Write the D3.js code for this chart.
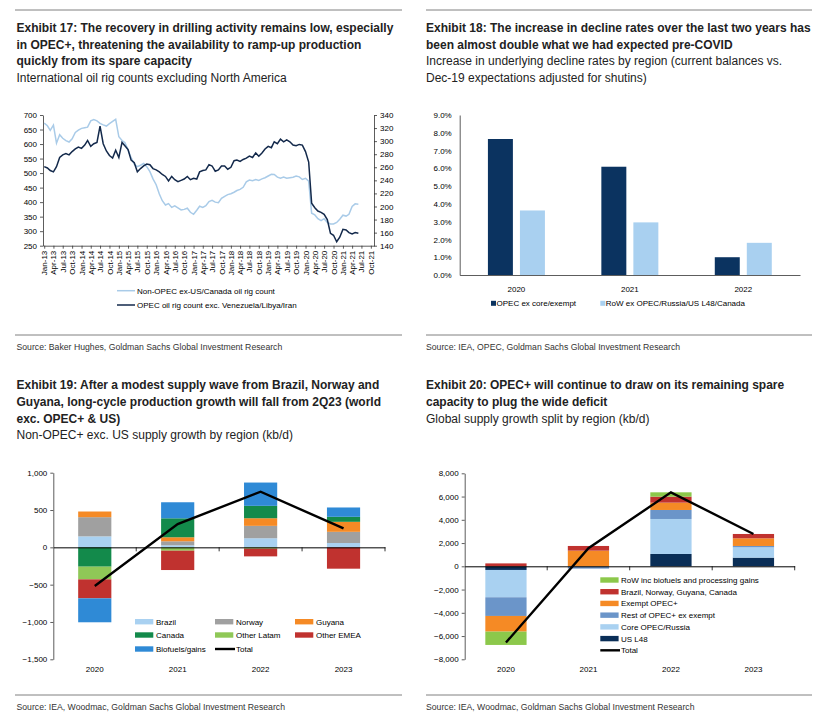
<!DOCTYPE html>
<html><head><meta charset="utf-8">
<script src="https://cdn.jsdelivr.net/npm/d3@7"></script>
<style>
body{margin:0;background:#fff}
svg{display:block}
.nar{font-family:"Liberation Sans Narrow","Arial Narrow","Liberation Sans",sans-serif}
.t8{font-family:"Liberation Sans",Arial,sans-serif;font-size:8px;fill:#000}
</style></head><body>
<svg id="c" width="824" height="720"></svg>
<script>
// ---------- DATA ----------
// Exhibit 17: monthly rig counts starting Jan-13
const ex17Start = "2013-01";
const nonOpecRigs = [672,663,647,665,603,632,620,612,607,618,640,648,654,656,658,680,684,680,671,666,662,670,678,685,625,612,605,580,553,530,522,527,533,522,505,480,460,428,405,390,395,382,387,380,373,375,379,365,358,372,386,382,388,402,406,400,398,413,420,426,429,434,440,444,451,470,476,474,478,475,480,484,490,496,495,486,482,486,482,484,486,490,487,478,482,472,362,356,343,336,343,330,325,325,330,341,355,352,358,385,394,393];
const opecRigs = [261,259,255,253,261,275,279,281,279,284,288,291,289,294,301,292,296,298,323,296,285,278,274,286,275,298,293,287,271,267,253,258,262,265,264,258,256,253,249,246,239,246,241,238,240,242,246,241,243,242,253,255,256,264,262,254,256,262,262,257,260,270,271,269,272,274,277,275,282,277,282,288,292,290,299,296,303,299,302,299,294,293,295,294,284,268,205,198,193,191,188,180,159,156,146,153,165,164,160,158,160,159];
const leftTicks17 = [250,300,350,400,450,500,550,600,650,700];
const rightTicks17 = [140,160,180,200,220,240,260,280,300,320,340];
const legend17 = ["Non-OPEC ex-US/Canada oil rig count","OPEC oil rig count exc. Venezuela/Libya/Iran"];

// Exhibit 18: increase in decline rates (%)
const years18 = ["2020","2021","2022"];
const opecExCore18 = [7.65,6.09,1.0];
const rowExOpec18 = [3.63,2.96,1.81];
const ticks18 = [0,1,2,3,4,5,6,7,8,9];
const legend18 = ["OPEC ex core/exempt","RoW ex OPEC/Russia/US L48/Canada"];

// Exhibit 19: Non-OPEC+ exc. US supply growth (kb/d)
const years19 = ["2020","2021","2022","2023"];
const brazil19 = [147,27,122,58];
const norway19 = [257,54,166,150];
const guyana19 = [76,54,102,134];
const canada19 = [-259,254,166,67];
const otherLatam19 = [-170,-45,-18,0];
const otherEMEA19 = [-254,-259,-103,-286];
const biofuels19 = [-321,215,312,125];
const total19 = [-518,312,745,254];
const ticks19 = [-1500,-1000,-500,0,500,1000];
const names19 = ["Brazil","Norway","Guyana","Canada","Other Latam","Other EMEA","Biofuels/gains"];

// Exhibit 20: Global supply growth (kb/d)
const years20 = ["2020","2021","2022","2023"];
const usL48_20 = [-315,0,1061,745];
const coreOpec20 = [-2350,0,3010,889];
const restOpec20 = [-1606,-200,774,115];
const exemptOpec20 = [-1347,1347,631,659];
const bngc20 = [250,402,516,373];
const row20 = [-1147,0,373,0];
const total20 = [-6560,1550,6365,2780];
const ticks20 = [-8000,-6000,-4000,-2000,0,2000,4000,6000,8000];
const names20 = ["US L48","Core OPEC/Russia","Rest of OPEC+ ex exempt","Exempt OPEC+","Brazil, Norway, Guyana, Canada","RoW inc biofuels and processing gains"];

// ---------- DRAW ----------
const svg = d3.select("#c");
const fmtK = d3.format(",");

function rule(x1,x2,y){svg.append("line").attr("x1",x1).attr("x2",x2).attr("y1",y).attr("y2",y).attr("stroke","#808080").attr("stroke-width",1);}
function texts(cls,x,ys,lines,size,weight,color){
  lines.forEach((t,i)=>svg.append("text").attr("class","nar "+cls).attr("data-x",x).attr("data-y",ys[i])
    .attr("x",0).attr("y",0).attr("transform",`translate(${x},${ys[i]})`)
    .attr("font-size",size).attr("font-weight",weight).attr("fill",color||"#222").text(t));
}
// condense a group of texts horizontally so that the first (reference) line gets the target width
function condense(cls,target){
  const nodes = svg.selectAll("text."+cls).nodes();
  const f = Math.min(1, target / nodes[0].getComputedTextLength());
  nodes.forEach(n=>{
    n.setAttribute("transform",`translate(${n.getAttribute("data-x")},${n.getAttribute("data-y")}) scale(${f.toFixed(4)},1)`);
  });
}
function styleAxis(g){
  g.selectAll("path,line").attr("stroke","#333").attr("stroke-width",0.8);
  g.selectAll("text").attr("class","t8").attr("font-size",null).attr("font-family",null);
}

// Headers
rule(15,402,10); rule(426,812,10);
texts("ttl",16.5,[32,48.7,65.3],["Exhibit 17: The recovery in drilling activity remains low, especially","in OPEC+, threatening the availability to ramp-up production","quickly from its spare capacity"],13.5,"bold");
texts("sub",16.5,[81.7],["International oil rig counts excluding North America"],12,"normal");
texts("ttl",426,[32,48.7],["Exhibit 18: The increase in decline rates over the last two years has","been almost double what we had expected pre-COVID"],13.5,"bold");
texts("sub",426,[65.3,81.7],["Increase in underlying decline rates by region (current balances vs.","Dec-19 expectations adjusted for shutins)"],12,"normal");
texts("ttl",16.5,[389.3,406,422.7],["Exhibit 19: After a modest supply wave from Brazil, Norway and","Guyana, long-cycle production growth will fall from 2Q23 (world","exc. OPEC+ & US)"],13.5,"bold");
texts("sub",16.5,[439.3],["Non-OPEC+ exc. US supply growth by region (kb/d)"],12,"normal");
texts("ttl",426,[389.3,406],["Exhibit 20: OPEC+ will continue to draw on its remaining spare","capacity to plug the wide deficit"],13.5,"bold");
texts("sub",426,[422.7],["Global supply growth split by region (kb/d)"],12,"normal");

rule(15,402,335); rule(426,812,335); rule(15,402,695); rule(426,812,695);
texts("src",16.5,[349.5],["Source: Baker Hughes, Goldman Sachs Global Investment Research"],9.5,"normal","#333");
texts("src",426,[349.5],["Source: IEA, OPEC, Goldman Sachs Global Investment Research"],9.5,"normal","#333");
texts("src",16.5,[709.5],["Source: IEA, Woodmac, Goldman Sachs Global Investment Research"],9.5,"normal","#333");
texts("src",426,[709.5],["Source: IEA, Woodmac, Goldman Sachs Global Investment Research"],9.5,"normal","#333");
condense("ttl",377);
condense("sub",272.5);
condense("src",266);

// ----- Exhibit 17 -----
(function(){
  const start = d3.timeParse("%Y-%m")(ex17Start);
  const dates = nonOpecRigs.map((_,i)=>d3.timeMonth.offset(start,i));
  const x = d3.scaleTime().domain([d3.timeDay.offset(start,-12), d3.timeMonth.offset(start,106)]).range([43,374]);
  const yL = d3.scaleLinear().domain([250,700]).range([245.7,115]);
  const yR = d3.scaleLinear().domain([140,340]).range([245.7,115]);
  const gL = svg.append("g").attr("transform","translate(43,0)").call(d3.axisLeft(yL).tickValues(leftTicks17).tickSize(3).tickSizeOuter(0).tickPadding(3));
  styleAxis(gL);
  const gR = svg.append("g").attr("transform","translate(374,0)").call(d3.axisRight(yR).tickValues(rightTicks17).tickSize(3).tickSizeOuter(0).tickPadding(3));
  styleAxis(gR);
  const ticks = d3.timeMonth.range(start, d3.timeMonth.offset(start,106), 3);
  const gB = svg.append("g").attr("transform","translate(0,245.7)").call(d3.axisBottom(x).tickValues(ticks).tickFormat(d3.timeFormat("%b-%y")).tickSize(3).tickSizeOuter(0));
  styleAxis(gB);
  gB.selectAll("text").attr("transform","rotate(-90)").attr("x",-5).attr("y",0).attr("dy","0.32em").style("text-anchor","end");
  const lineL = d3.line().x((d,i)=>x(dates[i])).y(d=>yL(d));
  const lineR = d3.line().x((d,i)=>x(dates[i])).y(d=>yR(d));
  svg.append("path").datum(nonOpecRigs).attr("d",lineL).attr("fill","none").attr("stroke","#a9cbe8").attr("stroke-width",1.5);
  svg.append("path").datum(opecRigs).attr("d",lineR).attr("fill","none").attr("stroke","#13294b").attr("stroke-width",1.5);
  const cols=["#a9cbe8","#13294b"];
  legend17.forEach((t,i)=>{
    const yy = 290.7 + i*14.3;
    svg.append("line").attr("x1",117).attr("x2",135).attr("y1",yy).attr("y2",yy).attr("stroke",cols[i]).attr("stroke-width",1.5);
    svg.append("text").attr("class","t8").attr("x",137).attr("y",yy+3).text(t);
  });
})();

// ----- Exhibit 18 -----
(function(){
  const x = d3.scaleBand().domain(years18).range([459.7,800]);
  const groupW = 57;
  const x1 = d3.scaleBand().domain([0,1]).range([0,groupW]).paddingInner(0.22);
  const y = d3.scaleLinear().domain([0,9]).range([275,115]);
  const cols = ["#0b3360","#a9d0f0"];
  const series = [opecExCore18,rowExOpec18];
  series.forEach((s,k)=>{
    svg.append("g").selectAll("rect").data(s).join("rect")
      .attr("x",(d,i)=>x(years18[i])+(x.bandwidth()-groupW)/2+x1(k))
      .attr("width",x1.bandwidth())
      .attr("y",d=>y(d)).attr("height",d=>y(0)-y(d)).attr("fill",cols[k]);
  });
  const gL = svg.append("g").attr("transform","translate(459.7,0)").call(d3.axisLeft(y).tickValues(ticks18).tickFormat(d=>d.toFixed(1)+"%").tickSize(0).tickPadding(8));
  styleAxis(gL);
  const gB = svg.append("g").attr("transform","translate(0,275)").call(d3.axisBottom(x).tickSize(0).tickPadding(11));
  styleAxis(gB);
  const lx=[491,600.3];
  legend18.forEach((t,i)=>{
    svg.append("rect").attr("x",lx[i]).attr("y",300.8).attr("width",5).attr("height",5).attr("fill",cols[i]);
    svg.append("text").attr("class","t8").attr("x",lx[i]+5.5).attr("y",306.2).text(t);
  });
})();

// ----- stacked chart helper -----
function stacked(cfg){
  const x = d3.scaleBand().domain(cfg.years).range(cfg.xr);
  const y = d3.scaleLinear().domain(cfg.yd).range(cfg.yr);
  const rows = cfg.years.map((yr,i)=>{const o={year:yr}; cfg.keys.forEach((k,j)=>o[k]=cfg.vals[j][i]); return o;});
  const st = d3.stack().keys(cfg.keys).offset(d3.stackOffsetDiverging)(rows);
  const bw = x.bandwidth()*cfg.barFrac;
  st.forEach((layer,j)=>{
    svg.append("g").selectAll("rect").data(layer).join("rect")
      .attr("x",d=>x(d.data.year)+(x.bandwidth()-bw)/2).attr("width",bw)
      .attr("y",d=>y(d[1])).attr("height",d=>Math.max(0,y(d[0])-y(d[1]))).attr("fill",cfg.colors[j]);
  });
  const gL = svg.append("g").attr("transform",`translate(${cfg.xr[0]},0)`).call(d3.axisLeft(y).tickValues(cfg.ticks).tickFormat(fmtK).tickSize(3).tickSizeOuter(0).tickPadding(3));
  styleAxis(gL);
  const g0 = svg.append("g").attr("transform",`translate(0,${y(0)})`)
    .call(d3.axisBottom(x).tickSize(0).tickFormat(""));
  g0.selectAll("path").attr("stroke","#000").attr("stroke-width",1);
  g0.selectAll(".tick").remove();
  cfg.years.forEach(yr=>{
    svg.append("line").attr("x1",x(yr)+x.bandwidth()).attr("x2",x(yr)+x.bandwidth()).attr("y1",y(0)).attr("y2",y(0)+4).attr("stroke","#000").attr("stroke-width",0.8);
  });
  svg.append("g").selectAll("text").data(cfg.years).join("text").attr("class","t8")
    .attr("x",d=>x(d)+x.bandwidth()/2).attr("y",cfg.yr[0]+12.5).attr("text-anchor","middle").text(d=>d);
  const ln = d3.line().x((d,i)=>x(cfg.years[i])+x.bandwidth()/2).y(d=>y(d));
  svg.append("path").datum(cfg.total).attr("d",ln).attr("fill","none").attr("stroke","#000").attr("stroke-width",2.4);
}

// ----- Exhibit 19 -----
const colors19 = ["#a9d1f1","#a0a0a0","#f58a25","#138a4b","#8fc857","#c0322f","#2f8ad6"];
stacked({years:years19,xr:[53.3,385],yd:[-1500,1000],yr:[659.3,472.7],ticks:ticks19,barFrac:0.4,
  keys:names19,vals:[brazil19,norway19,guyana19,canada19,otherLatam19,otherEMEA19,biofuels19],colors:colors19,total:total19});
(function(){
  const cx=[135,215,295], cy=[621.7,635,649];
  names19.concat(["Total"]).forEach((t,i)=>{
    const c=i%3, r=Math.floor(i/3);
    if(t==="Total") svg.append("line").attr("x1",cx[c]).attr("x2",cx[c]+20).attr("y1",cy[r]).attr("y2",cy[r]).attr("stroke","#000").attr("stroke-width",2.4);
    else svg.append("rect").attr("x",cx[c]).attr("y",cy[r]-2.7).attr("width",18.3).attr("height",5.4).attr("fill",colors19[i]);
    svg.append("text").attr("class","t8").attr("x",cx[c]+21).attr("y",cy[r]+3).text(t);
  });
})();

// ----- Exhibit 20 -----
const colors20 = ["#0a2e57","#a9d1f1","#6b95c9","#f58a25","#c0322f","#8cc84b"];
stacked({years:years20,xr:[464.7,794.7],yd:[-8000,8000],yr:[659.3,473.3],ticks:ticks20,barFrac:0.5,
  keys:names20,vals:[usL48_20,coreOpec20,restOpec20,exemptOpec20,bngc20,row20],colors:colors20,total:total20});
(function(){
  const order = [5,4,3,2,1,0];
  order.forEach((j,i)=>{
    const yy = 580 + i*11.72;
    svg.append("rect").attr("x",600.3).attr("y",yy-2.7).attr("width",18.3).attr("height",5.4).attr("fill",colors20[j]);
    svg.append("text").attr("class","t8").attr("x",621).attr("y",yy+3).text(names20[j]);
  });
  const yy = 580 + 6*11.72;
  svg.append("line").attr("x1",600.3).attr("x2",620).attr("y1",yy).attr("y2",yy).attr("stroke","#000").attr("stroke-width",2.4);
  svg.append("text").attr("class","t8").attr("x",621).attr("y",yy+3).text("Total");
})();
</script>
</body></html>
